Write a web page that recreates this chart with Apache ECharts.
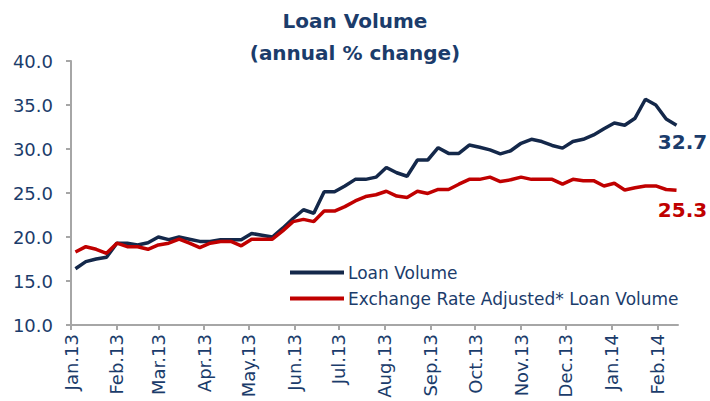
<!DOCTYPE html>
<html>
<head>
<meta charset="utf-8">
<script src="https://cdn.jsdelivr.net/npm/echarts@6/dist/echarts.min.js"></script>
<style>
  html, body { margin: 0; padding: 0; background: #fff; }
  #chart { width: 710px; height: 401px; }
</style>
</head>
<body>
<div id="chart"></div>
<script>
// weekly observations, Jan 2013 - Feb 2014
const weeks = [
  "2013-01-04", "2013-01-11", "2013-01-18", "2013-01-25",
  "2013-02-01", "2013-02-08", "2013-02-15", "2013-02-22",
  "2013-03-01", "2013-03-08", "2013-03-15", "2013-03-22", "2013-03-29",
  "2013-04-05", "2013-04-12", "2013-04-19", "2013-04-26",
  "2013-05-03", "2013-05-10", "2013-05-17", "2013-05-24", "2013-05-31",
  "2013-06-07", "2013-06-14", "2013-06-21", "2013-06-28",
  "2013-07-05", "2013-07-12", "2013-07-19", "2013-07-26",
  "2013-08-02", "2013-08-09", "2013-08-16", "2013-08-23", "2013-08-30",
  "2013-09-06", "2013-09-13", "2013-09-20", "2013-09-27",
  "2013-10-04", "2013-10-11", "2013-10-18", "2013-10-25",
  "2013-11-01", "2013-11-08", "2013-11-15", "2013-11-22", "2013-11-29",
  "2013-12-06", "2013-12-13", "2013-12-20", "2013-12-27",
  "2014-01-03", "2014-01-10", "2014-01-17", "2014-01-24", "2014-01-31",
  "2014-02-07", "2014-02-14"
];

// month ticks on the x axis
const monthTicks = [
  "2013-01-01", "2013-02-01", "2013-03-01", "2013-04-01", "2013-05-01",
  "2013-06-01", "2013-07-01", "2013-08-01", "2013-09-01", "2013-10-01",
  "2013-11-01", "2013-12-01", "2014-01-01", "2014-02-01"
];

const loanVolume = [
  16.4, 17.2, 17.5, 17.7, 19.3, 19.3, 19.1, 19.35, 20.0, 19.7,
  20.0, 19.75, 19.5, 19.5, 19.7, 19.7, 19.7, 20.4, 20.2, 20.0,
  21.0, 22.1, 23.1, 22.7, 25.15, 25.15, 25.8, 26.55, 26.55, 26.8,
  27.9, 27.3, 26.9, 28.75, 28.75, 30.15, 29.5, 29.5, 30.45, 30.2,
  29.9, 29.45, 29.8, 30.65, 31.1, 30.85, 30.4, 30.1, 30.85, 31.1,
  31.6, 32.3, 32.95, 32.7, 33.5, 35.65, 35.0, 33.4, 32.7
];

const fxAdjusted = [
  18.3, 18.9, 18.6, 18.15, 19.3, 18.9, 18.9, 18.6, 19.1, 19.3,
  19.75, 19.3, 18.8, 19.3, 19.5, 19.5, 19.0, 19.75, 19.75, 19.75,
  20.7, 21.75, 22.0, 21.75, 22.95, 22.95, 23.45, 24.1, 24.6, 24.8,
  25.2, 24.65, 24.5, 25.2, 24.95, 25.4, 25.4, 26.0, 26.55, 26.55,
  26.8, 26.3, 26.5, 26.8, 26.55, 26.55, 26.55, 26.0, 26.55, 26.4,
  26.4, 25.8, 26.1, 25.35, 25.6, 25.8, 25.8, 25.4, 25.3
];

const monthNames = ["Jan", "Feb", "Mar", "Apr", "May", "Jun",
  "Jul", "Aug", "Sep", "Oct", "Nov", "Dec"];

const textColor = "#1b3c6b";
const navy = "#14284a";
const red = "#c00000";

const ms = (s) => Date.parse(s); // UTC midnight

function toPoints(values, labelColor, labelOffset) {
  return values.map((v, i) => {
    const item = { value: [ms(weeks[i]), v] };
    if (i === values.length - 1) {
      item.label = {
        show: true,
        position: "bottom",
        offset: labelOffset,
        formatter: (p) => p.value[1].toFixed(1),
        color: labelColor,
        fontFamily: "DejaVu Sans",
        fontWeight: "bold",
        fontSize: 20
      };
    }
    return item;
  });
}

// svg renderer: rotated axis labels come out right with it
const chart = echarts.init(document.getElementById("chart"), null, { renderer: "svg" });

const tickValues = monthTicks.map(ms);

const options = {
  animation: false,
  title: {
    text: "Loan Volume\n(annual % change)",
    left: "center",
    top: 0,
    textStyle: {
      color: textColor,
      fontFamily: "DejaVu Sans",
      fontWeight: "bold",
      fontSize: 20,
      lineHeight: 32
    }
  },
  legend: {
    orient: "vertical",
    left: 285,
    top: 259,
    icon: "rect",
    itemWidth: 54,
    itemHeight: 4,
    itemGap: 9,
    textStyle: {
      color: textColor,
      fontFamily: "DejaVu Sans",
      fontSize: 17,
      padding: [0, 0, 0, -1]
    }
  },
  grid: {
    left: 71,
    right: 32,
    top: 61,
    bottom: 76
  },
  xAxis: {
    type: "value",
    min: ms("2013-01-01"),
    max: ms("2014-02-15"),
    splitLine: { show: false },
    axisLine: { lineStyle: { color: "#a6a6a6", width: 2 } },
    axisTick: {
      show: true,
      length: 5,
      customValues: tickValues,
      lineStyle: { color: "#a6a6a6", width: 2 }
    },
    axisLabel: {
      rotate: 90,
      margin: 9,
      customValues: tickValues,
      color: textColor,
      fontFamily: "DejaVu Sans",
      fontSize: 18,
      formatter: (val) => {
        const d = new Date(val);
        return monthNames[d.getUTCMonth()] + "." + String(d.getUTCFullYear()).slice(2);
      }
    }
  },
  yAxis: {
    type: "value",
    min: 10,
    max: 40,
    interval: 5,
    splitLine: { show: false },
    axisLine: { show: true, lineStyle: { color: "#a6a6a6", width: 2 } },
    axisTick: { show: true, length: 5, lineStyle: { color: "#a6a6a6", width: 2 } },
    axisLabel: {
      margin: 18,
      color: textColor,
      fontFamily: "DejaVu Sans",
      fontSize: 18,
      formatter: (v) => v.toFixed(1)
    }
  },
  series: [
    {
      name: "Loan Volume",
      type: "line",
      data: toPoints(loanVolume, "#1b3c6b", [6, 2]),
      symbol: "circle",
      symbolSize: 0,
      showSymbol: true,
      color: navy,
      lineStyle: { color: navy, width: 3.5 }
    },
    {
      name: "Exchange Rate Adjusted* Loan Volume",
      type: "line",
      data: toPoints(fxAdjusted, red, [6, 5]),
      symbol: "circle",
      symbolSize: 0,
      showSymbol: true,
      color: red,
      lineStyle: { color: red, width: 3.5 }
    }
  ]
};

chart.setOption(options);
</script>
</body>
</html>
